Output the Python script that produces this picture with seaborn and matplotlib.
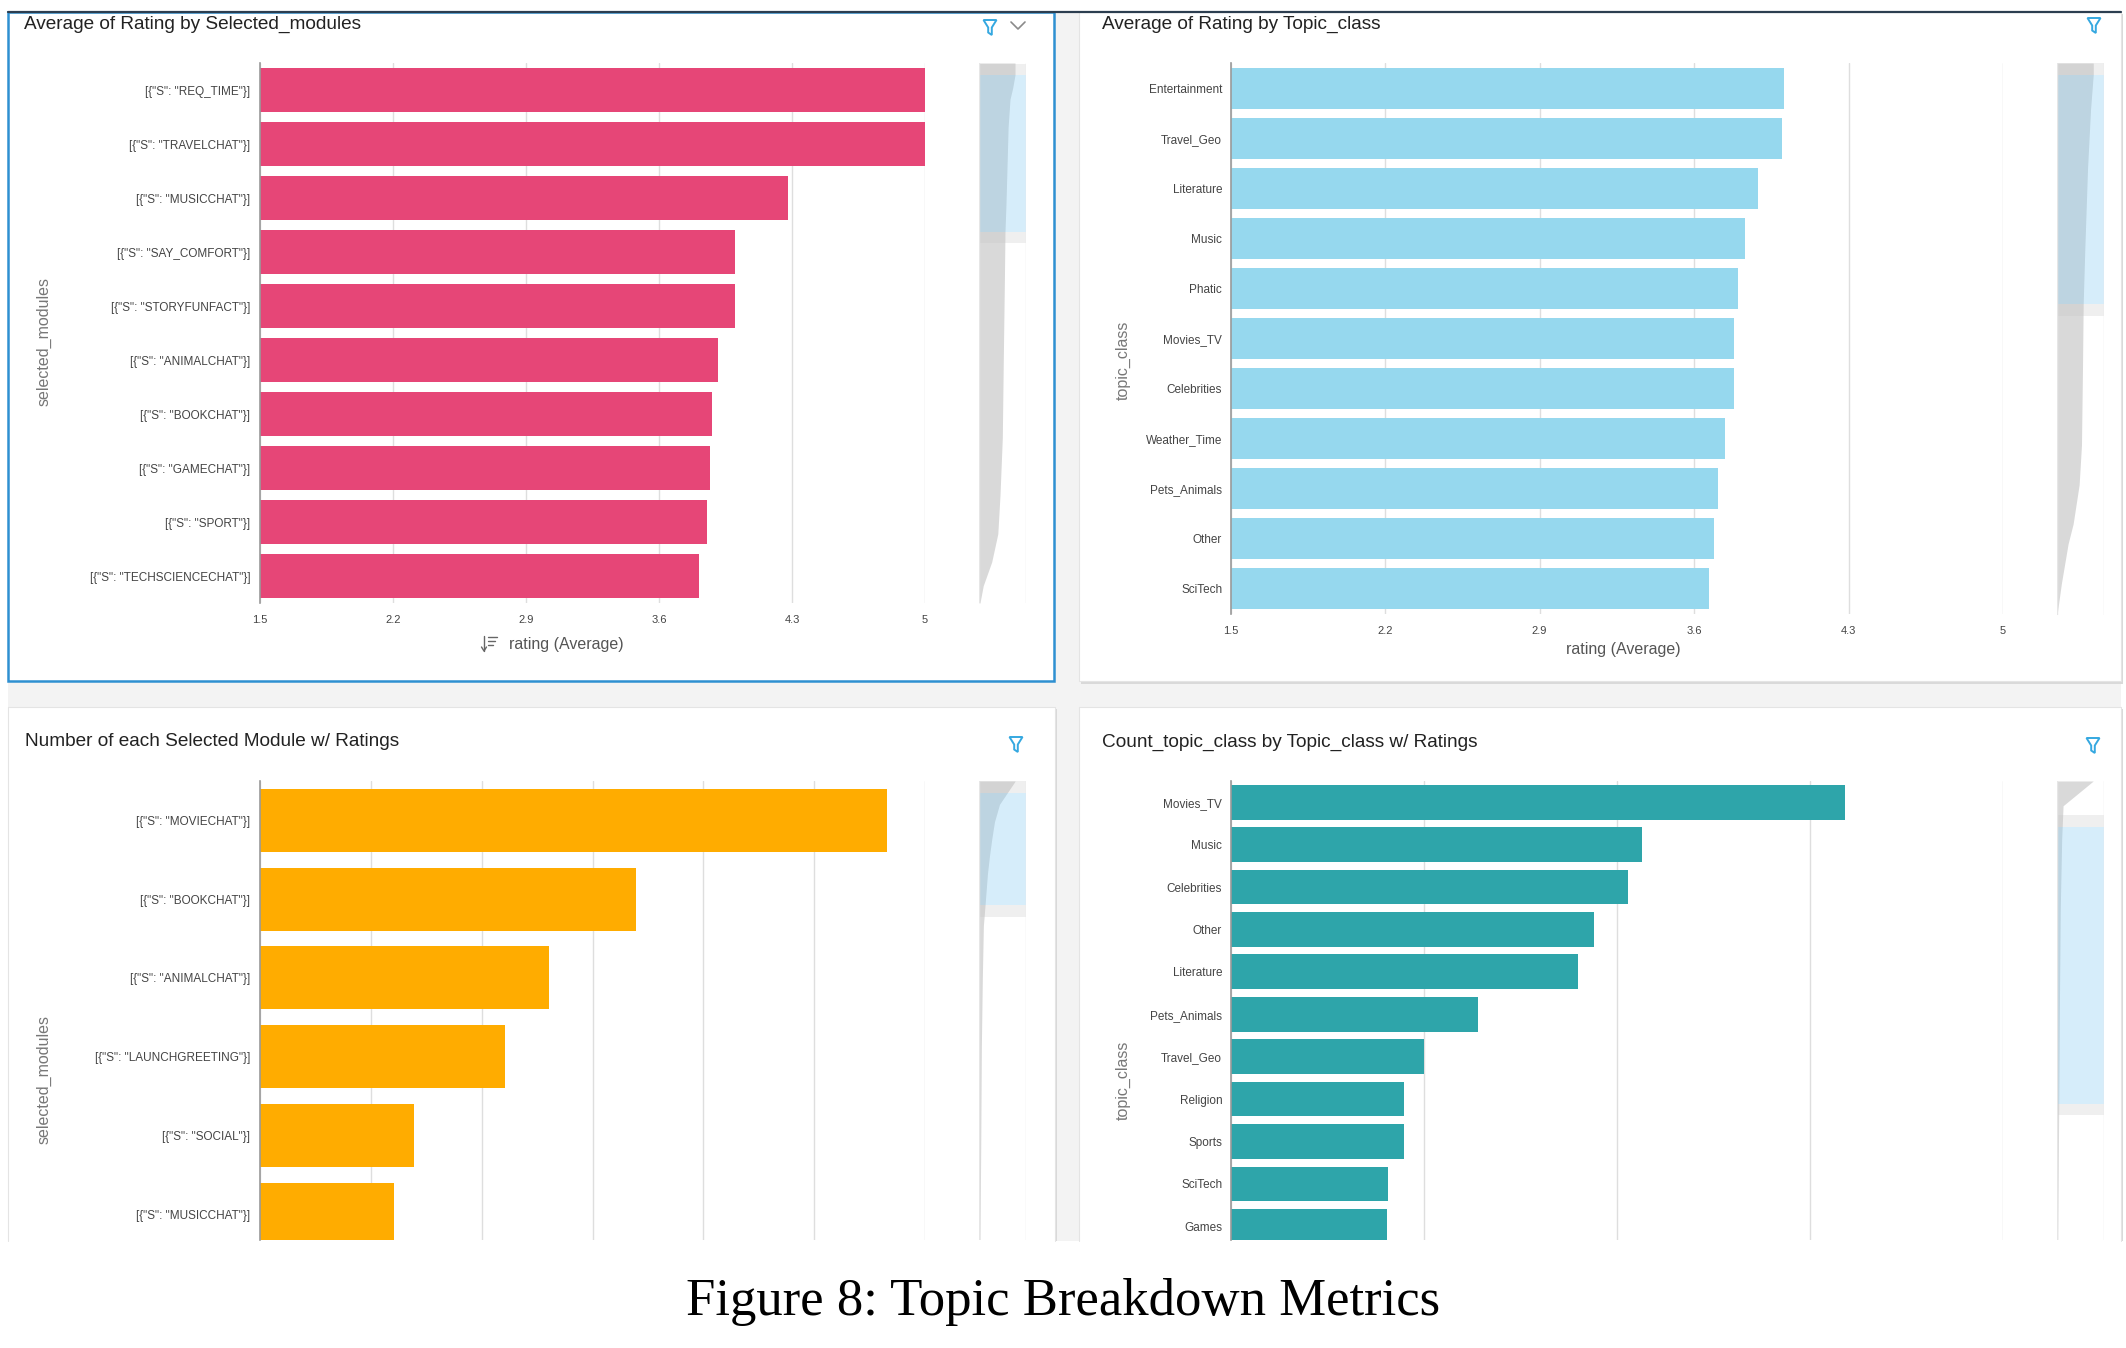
import matplotlib
matplotlib.use("Agg")
import matplotlib.pyplot as plt
import matplotlib.patches as mpatches
from matplotlib.lines import Line2D
import seaborn as sns

# =============================
# DATA
# =============================

tl_modules = ['[{"S": "REQ_TIME"}]', '[{"S": "TRAVELCHAT"}]', '[{"S": "MUSICCHAT"}]',
              '[{"S": "SAY_COMFORT"}]', '[{"S": "STORYFUNFACT"}]', '[{"S": "ANIMALCHAT"}]',
              '[{"S": "BOOKCHAT"}]', '[{"S": "GAMECHAT"}]', '[{"S": "SPORT"}]',
              '[{"S": "TECHSCIENCECHAT"}]']
tl_rating = [5.0, 5.0, 4.28, 4.0, 4.0, 3.91, 3.88, 3.87, 3.85, 3.81]

tr_topics = ["Entertainment", "Travel_Geo", "Literature", "Music", "Phatic", "Movies_TV",
             "Celebrities", "Weather_Time", "Pets_Animals", "Other", "SciTech"]
tr_rating = [4.01, 4.00, 3.89, 3.83, 3.80, 3.78, 3.78, 3.74, 3.71, 3.69, 3.67]

rating_ticks = [1.5, 2.2, 2.9, 3.6, 4.3, 5.0]
rating_tick_labels = ["1.5", "2.2", "2.9", "3.6", "4.3", "5"]

bl_modules = ['[{"S": "MOVIECHAT"}]', '[{"S": "BOOKCHAT"}]', '[{"S": "ANIMALCHAT"}]',
              '[{"S": "LAUNCHGREETING"}]', '[{"S": "SOCIAL"}]', '[{"S": "MUSICCHAT"}]']
bl_count = [1132, 678, 522, 442, 278, 242]

br_topics = ["Movies_TV", "Music", "Celebrities", "Other", "Literature", "Pets_Animals",
             "Travel_Geo", "Religion", "Sports", "SciTech", "Games"]
br_count = [1590, 1065, 1030, 940, 900, 640, 500, 448, 448, 407, 404]

# overview strips on the right of each chart: (position down the list, relative bar length)
tl_overview_y = [0, 0.022, 0.046, 0.067, 0.118, 0.262, 0.312, 0.406, 0.55, 0.694, 0.80, 0.872, 0.924, 0.968, 1.0]
tl_overview_x = [0.766, 0.766, 0.717, 0.66, 0.62, 0.574, 0.553, 0.54, 0.517, 0.496, 0.447, 0.40, 0.27, 0.09, 0.02]
tr_overview_y = [0, 0.0215, 0.084, 0.191, 0.334, 0.437, 0.549, 0.692, 0.764, 0.835, 0.871, 0.943, 1.0]
tr_overview_x = [0.771, 0.771, 0.714, 0.65, 0.593, 0.557, 0.543, 0.521, 0.471, 0.343, 0.236, 0.093, 0.0]
bl_overview_y = [0, 0.027, 0.051, 0.089, 0.127, 0.165, 0.203, 0.27, 0.316, 0.43, 0.581, 0.809, 1.0]
bl_overview_x = [0.771, 0.593, 0.436, 0.329, 0.271, 0.221, 0.179, 0.129, 0.093, 0.071, 0.05, 0.036, 0.021]
br_overview_y = [0, 0.054, 0.126, 0.278, 0.506, 0.733, 1.0]
br_overview_x = [0.771, 0.129, 0.10, 0.07, 0.05, 0.035, 0.015]

# =============================
# STYLE
# =============================

sns.set_theme(style="white")
plt.rcParams["font.family"] = ["Liberation Sans", "DejaVu Sans"]

W, H = 2126, 1348
fig = plt.figure(figsize=(W / 100, H / 100), dpi=100)
fig.patch.set_facecolor("white")


def box(l, t, r, b):
    return [l / W, 1 - b / H, (r - l) / W, (b - t) / H]


def rect(l, t, r, b, **kw):
    p = mpatches.Rectangle((l / W, 1 - b / H), (r - l) / W, (b - t) / H,
                           transform=fig.transFigure, **kw)
    fig.add_artist(p)


def line(xs, ys, **kw):
    fig.add_artist(Line2D([x / W for x in xs], [1 - y / H for y in ys],
                          transform=fig.transFigure, **kw))


def funnel(cx, cy):
    pts = [(-6.5, -7), (6.5, -7), (1.8, 0.5), (1.8, 8), (-1.8, 5.5), (-1.8, 0.5)]
    p = mpatches.Polygon([((cx + x) / W, 1 - (cy + y) / H) for x, y in pts], closed=True,
                         transform=fig.transFigure, fill=False, edgecolor="#35a8e0",
                         linewidth=1.4, zorder=5)
    fig.add_artist(p)


# =============================
# DASHBOARD BACKGROUND
# =============================

rect(8, 12, 2121, 1241, facecolor="#f3f3f3", edgecolor="none", zorder=-5)

# top-right card, with a soft shadow
rect(1081, 14, 2123, 684, facecolor="#d9d9d9", edgecolor="none", zorder=-4)
rect(1079, 12, 2121, 681, facecolor="white", edgecolor="#e4e4e4", linewidth=0.8, zorder=-3)

# bottom cards are cut off by the screenshot, so no bottom edge
for l, r in [(8, 1055), (1079, 2121)]:
    rect(l + 2, 709, r + 2, 1241, facecolor="#d9d9d9", edgecolor="none", zorder=-4)
    rect(l, 707, r, 1241, facecolor="white", edgecolor="none", zorder=-3)
    line([l, l, r, r], [1241, 707, 707, 1241], color="#e4e4e4", linewidth=0.8, zorder=-2)

# selected card (blue frame)
rect(8, 12, 1054, 681, facecolor="white", edgecolor="#2e90d1", linewidth=1.8, zorder=-3)
line([8, 2121], [12, 12], color="#2c3e50", linewidth=1.6, zorder=-2)

TITLE_KW = dict(fontsize=13.7, color="#222222", va="center", ha="left")
fig.text(24 / W, 1 - 24 / H, "Average of Rating by Selected_modules", **TITLE_KW)
fig.text(1102 / W, 1 - 24 / H, "Average of Rating by Topic_class", **TITLE_KW)
fig.text(25 / W, 1 - 742 / H, "Number of each Selected Module w/ Ratings", **TITLE_KW)
fig.text(1102 / W, 1 - 742 / H, "Count_topic_class by Topic_class w/ Ratings", **TITLE_KW)

funnel(990, 27)
funnel(2094, 25)
funnel(1016, 744)
funnel(2093, 745)
line([1011, 1018, 1025], [22, 29, 22], color="#8a8a8a", linewidth=1.2)

# sort icon next to the x label of the first chart
line([484, 484], [636, 651], color="#666666", linewidth=1.0)
line([481.5, 484, 486.5], [647, 651, 647], color="#666666", linewidth=1.0)
for y, x2 in [(637, 497), (641, 495), (645, 493)]:
    line([488, x2], [y, y], color="#666666", linewidth=1.0)


# =============================
# BAR CHARTS
# =============================

def bar_chart(pos, labels, values, color, xlim, xticks, xticklabels, ylim, width,
              ylabel, ylabel_xy, xlabel=None, xlabel_xy=None, ypad=7, xpad=8):
    ax = fig.add_axes(box(*pos))
    sns.barplot(x=values, y=labels, order=labels, orient="h", color=color,
                saturation=1, width=width, linewidth=0, ax=ax)
    ax.set_facecolor("none")
    ax.set_xlim(*xlim)
    ax.set_ylim(*ylim)
    ax.set_xticks(xticks)
    ax.set_xticklabels(xticklabels)
    ax.set_axisbelow(True)
    ax.xaxis.grid(True, color="#dedede", linewidth=1.0)
    ax.yaxis.grid(False)
    for s in ["top", "right", "bottom"]:
        ax.spines[s].set_visible(False)
    ax.spines["left"].set_color("#9a9a9a")
    ax.spines["left"].set_linewidth(1.2)
    ax.tick_params(axis="y", length=0, pad=ypad, labelsize=8.5, labelcolor="#444444")
    ax.tick_params(axis="x", length=0, pad=xpad, labelsize=8, labelcolor="#444444")
    ax.set_ylabel(ylabel, fontsize=11.5, color="#777777")
    ax.yaxis.set_label_coords(*ylabel_xy)
    ax.yaxis.label.set_va("center")
    if xlabel:
        ax.set_xlabel(xlabel, fontsize=11.5, color="#555555")
        ax.xaxis.set_label_coords(*xlabel_xy)
        ax.xaxis.label.set_va("center")
    else:
        ax.set_xlabel("")
    return ax


bar_chart((260, 63, 925, 603), tl_modules, tl_rating, "#e64677", (1.5, 5.0),
          rating_ticks, rating_tick_labels, (9.5, -0.5), 0.81,
          "selected_modules", (-0.325, 0.485), "rating (Average)", (0.46, -0.076),
          ypad=7, xpad=8.3)

bar_chart((1230.5, 63, 2003, 614), tr_topics, tr_rating, "#96d8ee", (1.5, 5.0),
          rating_ticks, rating_tick_labels, (10.5, -0.5), 0.82,
          "topic_class", (-0.139, 0.461), "rating (Average)", (0.509, -0.064),
          ypad=6, xpad=9)

bar_chart((260, 781, 925, 1239.5), bl_modules, bl_count, "#ffac00", (0, 1200),
          [0, 200, 400, 600, 800, 1000, 1200], [], (5.32, -0.5), 0.80,
          "selected_modules", (-0.325, 0.348), ypad=7)

bar_chart((1230.5, 781, 2003, 1239.5), br_topics, br_count, "#2ea5aa", (0, 2000),
          [0, 500, 1000, 1500, 2000], [], (10.31, -0.5), 0.82,
          "topic_class", (-0.139, 0.348), ypad=6)


# =============================
# OVERVIEW STRIPS
# =============================

def overview(pos, ys, xs, sel_top, sel_bot, band=0.021):
    ax = fig.add_axes(box(*pos))
    ax.set_xlim(0, 1)
    ax.set_ylim(1, 0)
    ax.set_axis_off()
    ax.fill_betweenx(ys, 0, xs, color="#d9d9d9", linewidth=0)
    ax.axhspan(sel_top - band, sel_top, color="#c0c0c0", alpha=0.24, linewidth=0)
    ax.axhspan(sel_top, sel_bot, color="#85cbf2", alpha=0.33, linewidth=0)
    ax.axhspan(sel_bot, sel_bot + band, color="#c0c0c0", alpha=0.24, linewidth=0)
    ax.axvline(0, color="#e6e6e6", linewidth=1.0)
    ax.axvline(1, color="#e6e6e6", linewidth=1.0)
    return ax


overview((979, 63, 1026, 603), tl_overview_y, tl_overview_x, 0.022, 0.313)
overview((2057, 63, 2104, 615), tr_overview_y, tr_overview_x, 0.0215, 0.437)
overview((979, 781, 1026, 1239.5), bl_overview_y, bl_overview_x, 0.026, 0.27, band=0.026)
overview((2057, 781, 2104, 1239.5), br_overview_y, br_overview_x, 0.10, 0.704, band=0.025)

# =============================
# CAPTION
# =============================

fig.text(1063 / W, 1 - 1302 / H, "Figure 8: Topic Breakdown Metrics",
         family=["Liberation Serif", "DejaVu Serif"], fontsize=38, color="black",
         ha="center", va="center")

fig.savefig("out.png", dpi=100, facecolor="white")
